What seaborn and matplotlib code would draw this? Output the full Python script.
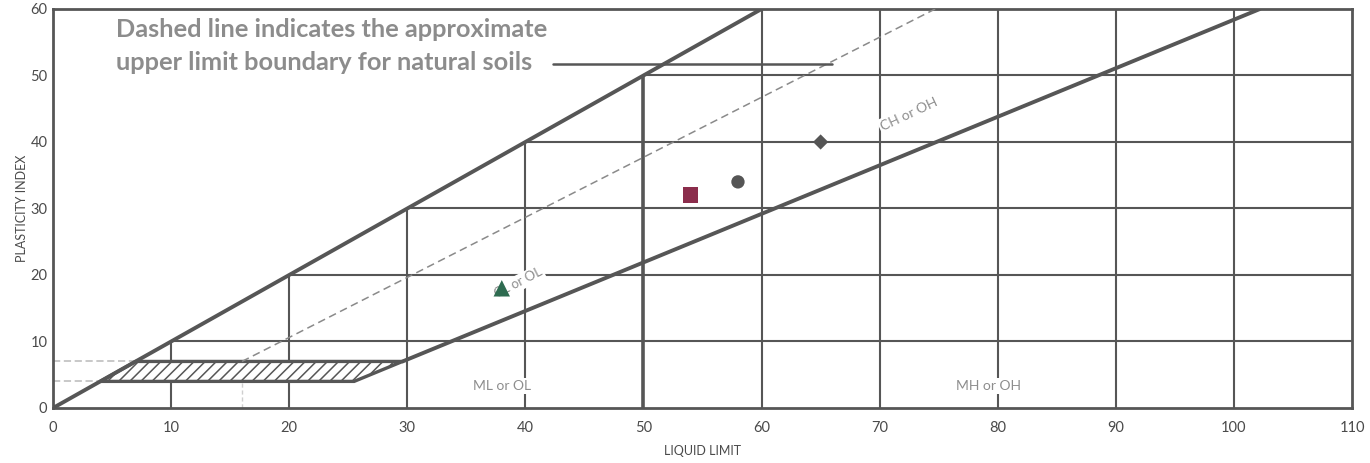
import numpy as np
import pandas as pd
import matplotlib
matplotlib.use("Agg")
import matplotlib.pyplot as plt
import seaborn as sns
from matplotlib.patches import Polygon

# ---------------- data ----------------
x_ticks = [0, 10, 20, 30, 40, 50, 60, 70, 80, 90, 100, 110]
y_ticks = [0, 10, 20, 30, 40, 50, 60]

sample_ll = [38, 54, 58, 65]
sample_pi = [18, 32, 34, 40]
sample_id = ["S1", "S2", "S3", "S4"]
sample_markers = ["^", "s", "o", "D"]
sample_colors = ["#2e6b50", "#8b2d4c", "#555555", "#555555"]
sample_sizes = [140, 125, 92, 60]

u_ll = [0, 60]          # upper boundary line
u_pi = [0, 60]
a_ll = [29.6, 102.2]    # A-line
a_pi = [7, 60]
dash_ll = [16, 74.7]    # approximate upper limit for natural soils
dash_pi = [7, 60]
hatch_ll = [4, 7, 29.6, 25.5]   # CL-ML zone
hatch_pi = [4, 7, 7, 4]

grid_v_ll = [10, 20, 30, 40, 50, 60, 70, 80, 90, 100]
grid_v_top = [10, 20, 30, 40, 50, 60, 60, 60, 60, 60]
grid_h_pi = [10, 20, 30, 40, 50]
grid_h_start = [10, 20, 30, 40, 50]

zone_labels = ["CL or OL", "CH or OH", "ML or OL", "MH or OH"]
zone_ll = [39.4, 72.5, 38.0, 79.2]
zone_pi = [18.8, 44.2, 3.3, 3.3]
zone_rot = [27, 25, 0, 0]
zone_size = [9.5, 10, 10, 10]

note_text = "Dashed line indicates the approximate\nupper limit boundary for natural soils"
leader_ll = [42.3, 66]
leader_pi = [51.7, 51.7]

# ---------------- style ----------------
sns.set_theme(style="white")
plt.rcParams["font.family"] = ["Lato", "DejaVu Sans"]
plt.rcParams["hatch.linewidth"] = 1.1
plt.rcParams["hatch.color"] = "#555555"

DARK = "#565656"
fig = plt.figure(figsize=(13.7, 4.63), dpi=100)
ax = fig.add_axes([0.0387, 0.1188, 0.9482, 0.8618])

# grid (partial lines as on the chart)
for x, top in zip(grid_v_ll, grid_v_top):
    ax.plot([x, x], [0, top], color=DARK, lw=2.6 if x == 50 else 1.5, zorder=1,
            solid_capstyle="butt")
for y, x0 in zip(grid_h_pi, grid_h_start):
    ax.plot([x0, 110], [y, y], color=DARK, lw=1.5, zorder=1, solid_capstyle="butt")

# faint construction lines at PI 4 and 7
ax.plot([0, 7], [7, 7], color="#c4c4c4", lw=1.3, ls=(0, (4, 2)), zorder=1)
ax.plot([0, 4], [4, 4], color="#c4c4c4", lw=1.3, ls=(0, (4, 2)), zorder=1)
ax.plot([16, 16], [0, 4], color="#cfcfcf", lw=1.0, ls=(0, (3, 2)), zorder=1)

# CL-ML hatched zone
poly = Polygon(np.column_stack([hatch_ll, hatch_pi]), closed=True,
               facecolor="white", edgecolor=DARK, lw=2.4, hatch="///", zorder=2)
ax.add_patch(poly)

# boundary lines
lines = pd.DataFrame({
    "LL": u_ll + a_ll,
    "PI": u_pi + a_pi,
    "line": ["U", "U", "A", "A"],
})
sns.lineplot(data=lines, x="LL", y="PI", units="line", estimator=None,
             color=DARK, lw=2.8, ax=ax, zorder=3, sort=False)
ax.plot(dash_ll, dash_pi, color="#8a8a8a", lw=1.1, ls=(0, (5, 3)), zorder=3)
ax.plot(leader_ll, leader_pi, color=DARK, lw=1.8, zorder=3)

# zone labels
for t, x, y, r, fs in zip(zone_labels, zone_ll, zone_pi, zone_rot, zone_size):
    ax.text(x, y, t, rotation=r, ha="center", va="center", fontsize=fs,
            color="#8d8d8d", zorder=4,
            bbox=dict(boxstyle="square,pad=0.15", fc="white", ec="none"))

# note
ax.text(5.3, 58.6, note_text, ha="left", va="top", fontsize=18.3, fontweight="bold",
        color="#8c8c8c", linespacing=1.5, zorder=4)

# samples
samples = pd.DataFrame({"LL": sample_ll, "PI": sample_pi, "id": sample_id})
for i in range(len(samples)):
    sns.scatterplot(data=samples.iloc[[i]], x="LL", y="PI", marker=sample_markers[i],
                    color=sample_colors[i], s=sample_sizes[i], edgecolor="none",
                    ax=ax, zorder=5, legend=False)

# axes
ax.set_xlim(0, 110)
ax.set_ylim(0, 60)
ax.set_xticks(x_ticks)
ax.set_yticks(y_ticks)
ax.tick_params(axis="x", length=0, pad=9.5, labelsize=10.5, labelcolor="#4a4a4a")
ax.tick_params(axis="y", direction="in", length=14, width=1.3, color=DARK,
               pad=4, labelsize=10.5, labelcolor="#4a4a4a")
for s in ax.spines.values():
    s.set_color(DARK)
    s.set_linewidth(2.0)
ax.set_xlabel("LIQUID LIMIT", fontsize=9, color="#4a4a4a", labelpad=7)
ax.set_ylabel("PLASTICITY INDEX", fontsize=9, color="#4a4a4a", labelpad=2)

fig.savefig("out.png", dpi=100)
